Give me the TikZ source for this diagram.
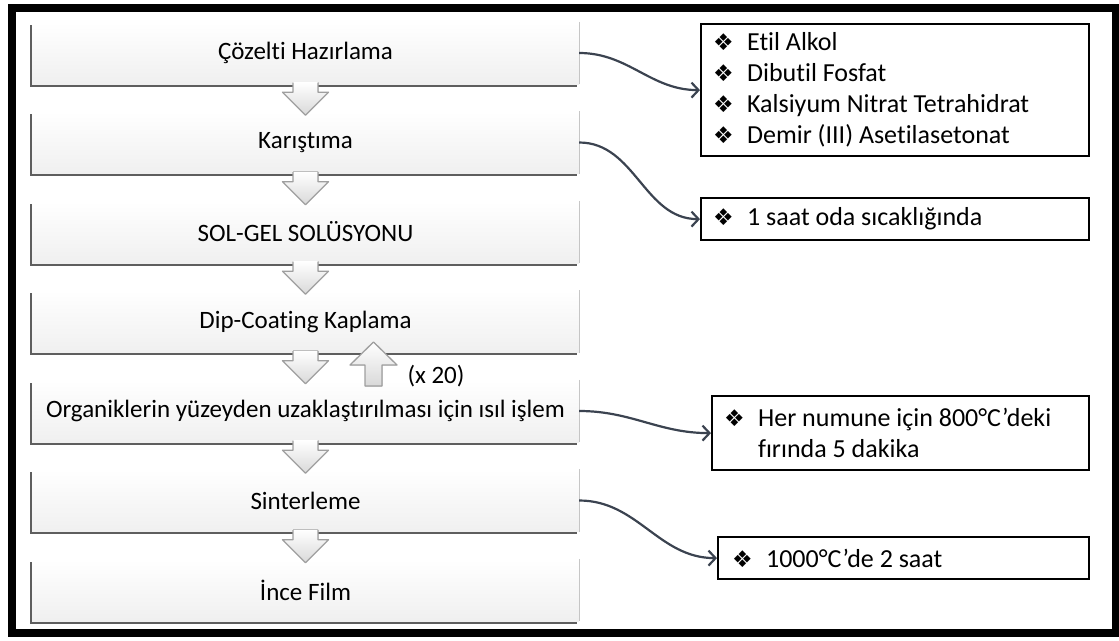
\documentclass[tikz,border=0pt]{standalone}
\usepackage{fontspec}
\setmainfont{Carlito}[Ligatures=NoCommon]
\newfontfamily\symfont{DejaVu Sans}
\usetikzlibrary{calc,shadows,arrows.meta}

\definecolor{ink}{HTML}{3B4350}
\newcommand{\bulitem}{\makebox[34pt][l]{\symfont\fontsize{23}{23}\selectfont ❖}}

\tikzset{
  stepbox/.style={minimum width=547pt, minimum height=62pt, inner sep=0pt,
    top color=white, bottom color=gray!12,
    drop shadow={shadow xshift=-2.5pt, shadow yshift=-2.5pt, fill=gray!60!black, opacity=0.9},
    font=\fontsize{25}{30}\selectfont,
    append after command={\pgfextra{\draw[gray!50,line width=1.2pt]
      (\tikzlastnode.north east) -- (\tikzlastnode.south east);}}},
  notebox/.style={draw, line width=2.2pt, anchor=north west, align=flush left,
    inner ysep=0pt, inner xsep=12pt, font=\fontsize{26}{31}\selectfont},
  chev/.pic={
    \fill[top color=white, bottom color=gray!30] (-12.5,-2) -- (-12.5,8) -- (-23,8)
      -- (0,31) -- (23,8) -- (12.5,8) -- (12.5,-2) -- cycle;
    \draw[gray!75, line width=1.3pt, line join=round] (-12.5,-1.5) -- (-12.5,8) -- (-23,8)
      -- (0,31) -- (23,8) -- (12.5,8) -- (12.5,-1.5);
  }
}

\begin{document}
\begin{tikzpicture}[x=1pt, y=-1pt, >={Straight Barb[length=7pt,width=15pt]}]
                \useasboundingbox (0,0) rectangle (1119,640);
                \draw[line width=8pt] (12,7.5) rectangle (1115.5,632.5);
                % process steps
                \begin{scope}[every node/.style={stepbox}]
                    \node (b1) at (305.5,53) {Çözelti Hazırlama};
                    \node (b2) at (305.5,142.5) {Karıştıma};
                    \node (b3) at (305.5,232) {SOL-GEL SOLÜSYONU};
                    \node (b4) at (305.5,321.5) {Dip-Coating Kaplama};
                    \node (b5) at (305.5,411) {Organiklerin yüzeyden uzaklaştırılması için ısıl işlem};
                    \node (b6) at (305.5,500.5) {Sinterleme};
                    \node (b7) at (305.5,590) {İnce Film};
                \end{scope}
                \pic at (b1.south) {chev};
                \pic at (b2.south) {chev};
                \pic at (b3.south) {chev};
                \pic at (b4.south) {chev};
                \pic at (b5.south) {chev};
                \pic at (b6.south) {chev};
                % repeat arrow
                \fill[top color=white, bottom color=gray!30] (373.5,342) -- (397,365) -- (382,365)
                    -- (382,386) -- (365,386) -- (365,365) -- (350,365) -- cycle;
                \draw[gray!75, line width=1.3pt, line join=round] (373.5,342) -- (397,365) -- (382,365)
                    -- (382,386) -- (365,386) -- (365,365) -- (350,365) -- cycle;
                \node (rep) [font=\fontsize{25}{30}\selectfont] at (436,376) {(x 20)};
                % notes
                \begin{scope}[every node/.style={notebox}]
                    \node (r1) [minimum width=388pt, minimum height=132pt, text width=364pt] at (700,23)
                        {\bulitem Etil Alkol\\ \bulitem Dibutil Fosfat\\ \bulitem Kalsiyum Nitrat Tetrahidrat\\ \bulitem Demir (III) Asetilasetonat};
                    \node (r2) [minimum width=388pt, minimum height=42pt, text width=364pt] at (700,197)
                        {\bulitem 1 saat oda sıcaklığında};
                    \node (r3) [minimum width=377pt, minimum height=74pt, text width=353pt] at (711,395)
                        {\bulitem Her numune için 800°C’deki\\ \hspace*{34pt}fırında 5 dakika};
                    \node (r4) [minimum width=371pt, minimum height=42pt, text width=343pt, inner xsep=14pt] at (717,536)
                        {\bulitem 1000°C’de 2 saat};
                \end{scope}
                \begin{scope}[every edge/.style={draw=ink, line width=2.2pt, ->, out=0, in=180}]
                    \draw (b1) edge (r1);
                    \draw (b2) edge (r2);
                    \draw (b5) edge (r3);
                    \draw (b6) edge (r4);
                \end{scope}
            \end{tikzpicture}
\end{document}
